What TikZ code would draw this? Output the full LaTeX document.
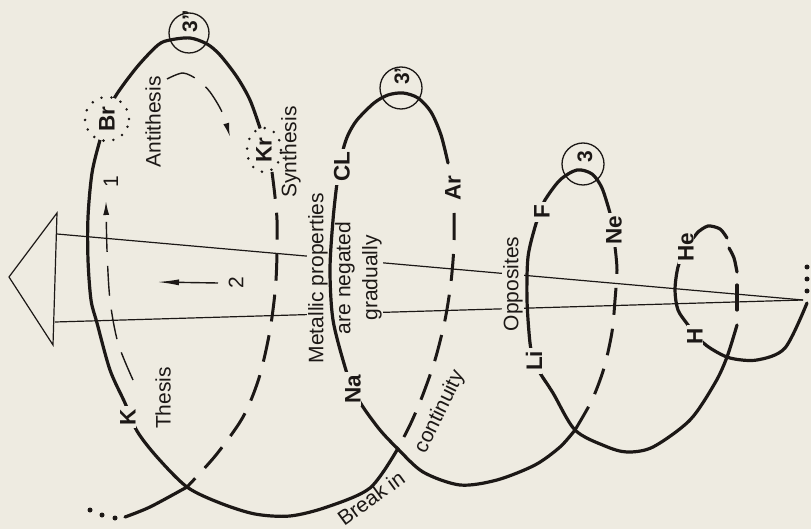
\documentclass[tikz,border=0pt]{standalone}
\usepackage{fontspec}
\setmainfont{Liberation Sans}
\usetikzlibrary{arrows.meta}
\definecolor{paper}{RGB}{238,235,225}
\definecolor{ink}{RGB}{28,24,22}
\begin{document}
\begin{tikzpicture}[x=1pt,y=-1pt,
  spiral/.style={draw=ink,line width=3.2pt,line cap=round,line join=round},
  hidden/.style={draw=ink,line width=3pt,dash pattern=on 27pt off 14pt},
  thinline/.style={draw=ink,line width=1.2pt},
  elem/.style={font=\fontsize{22.5}{25}\selectfont\bfseries,text=ink,rotate=90,fill=paper,inner xsep=3pt,inner ysep=0pt},
  lbl/.style={font=\fontsize{21}{27}\selectfont,text=ink,rotate=90,inner sep=1pt},
  ring/.style={draw=ink,line width=1.3pt},
  ringlbl/.style={font=\fontsize{21}{22}\selectfont\bfseries,text=ink,rotate=90,inner sep=0pt},
  halo/.style={draw=ink,fill=paper,line width=2.8pt,dash pattern=on 0pt off 10pt,line cap=round},
  enddot/.style={circle,fill=ink,inner sep=0pt,minimum size=5pt},
  flowarrow/.style={thinline,line width=1.4pt,dash pattern=on 30pt off 14pt,-{Latex[length=14pt,width=6pt]}},
]
\fill[paper] (0,0) rectangle (811,529);
\useasboundingbox (0,0) rectangle (811,529);

% the cone and converging lines
\coordinate (apex) at (803,300);
\coordinate (ctop) at (57,213);
\coordinate (ctip) at (9,277);
\coordinate (cbot) at (53,345);
\coordinate (ltop) at (57,234);
\coordinate (lbot) at (55,322);
\draw[thinline,line join=miter] (ctop) -- (ctip) -- (cbot) -- cycle;
\draw[thinline] (ltop) -- (apex);
\draw[thinline] (lbot) -- (apex);

% texts that interrupt the thin lines
\node[lbl,fill=paper,align=center] (metal) at (345,278) {Metallic properties\\are negated\\gradually};
\node[lbl,fill=paper] (opp) at (513,284) {Opposites};

% back (hidden) sides of the spiral
\draw[hidden] plot[smooth] coordinates {(272,172) (277,220) (276,280) (270,330) (259,378) (243,417) (216,455) (187,487)};
\draw[hidden] plot[smooth] coordinates {(454,213) (454,245) (451,282) (445,320) (435,360) (422,397) (410,425) (397,450)};
\draw[hidden] plot[smooth] coordinates {(615,247) (617,270) (615,300) (612,332) (604,368) (592,400) (575,430)};
\draw[spiral] (737,310) -- (737,285);
\draw[spiral] plot[smooth] coordinates {(737,272) (734,258) (729,248)};
\draw[spiral] plot[smooth] coordinates {(727,238) (720,229) (708,226) (698,232)};

% front (visible) sides of the spiral
\draw[spiral] plot[smooth] coordinates {(125,517) (150,507) (187,487)};
\draw[spiral] plot[smooth] coordinates {(260,128) (250,100) (237,77) (220,55) (207,44) (190,38) (170,40) (158,45) (137,67) (115,97) (107,118) (100,140) (92,173) (88,217) (88,260) (91,300) (97,323) (110,370) (125,403) (137,431) (157,457) (187,487) (220,503) (255,514) (290,516) (327,507) (370,488) (397,450)};
\draw[spiral] plot[smooth] coordinates {(448,163) (441,135) (431,112) (418,98) (403,93) (388,95) (374,103) (357,120) (348,135) (343,150) (340,167) (337,183) (333,220) (330,270) (333,320) (345,367) (353,389) (363,407) (380,430) (397,448) (423,472) (460,485) (497,480) (535,465) (560,447) (575,430)};
\draw[spiral] plot[smooth] coordinates {(610,213) (602,188) (592,174) (577,170) (560,180) (545,200) (540,213) (535,227) (528,257) (527,300) (530,343) (534,360) (540,373) (553,393) (575,430) (605,446) (627,452) (653,447) (690,420) (715,383) (727,357) (737,325)};
\draw[spiral] plot[smooth] coordinates {(698,232) (686,248) (678,267) (675,290) (678,310) (688,325) (697,337) (710,348) (730,358) (757,360) (785,348) (807,303)};

% end dots
\node[enddot] (dl1) at (90,510) {};
\node[enddot] (dl2) at (102,515) {};
\node[enddot] (dl3) at (115,518) {};
\node[enddot] (dr1) at (807,267) {};
\node[enddot] (dr2) at (807,279) {};
\node[enddot] (dr3) at (807,291) {};

% element labels
\draw[halo] (107,119) circle[radius=22pt];
\node[elem,fill=none] (Br) at (107,119) {Br};
\draw[halo] (264,150) ellipse[x radius=17pt,y radius=22pt];
\node[elem,fill=none] (Kr) at (264,150) {Kr};
\node[elem] (K) at (128,417) {K};
\node[elem] (CL) at (342,167) {CL};
\node[elem] (Ar) at (453,188) {Ar};
\node[elem] (Na) at (353,389) {Na};
\node[elem] (F) at (542,212) {F};
\node[elem] (Ne) at (614,230) {Ne};
\node[elem] (Li) at (534,361) {Li};
\node[elem] (He) at (686,247) {He};
\node[elem] (H) at (695,336) {H};

% rings
\draw[ring] (189,33) circle[radius=20pt];
\node[ringlbl] (r3a) at (190,21) {3''};
\draw[ring] (401,88) circle[radius=21pt];
\node[ringlbl] (r3b) at (402,76) {3'};
\draw[ring] (583,164) circle[radius=21pt];
\node[ringlbl] (r3c) at (585,157) {3};

% inner labels and arrows
\node[lbl] (anti) at (153,122) {Antithesis};
\node[lbl] (synth) at (291,152) {Synthesis};
\node[lbl] (thesis) at (163,398) {Thesis};
\node[lbl] (one) at (111,182) {1};
\node[lbl] (two) at (236,283) {2};
\node[lbl,rotate=-26] (cont) at (440,412) {continuity};
\node[lbl,rotate=-54] (brk) at (371,498) {Break in};

\draw[flowarrow] plot[smooth] coordinates {(133,380) (118,343) (110,300) (107,250) (106,201)};
\draw[flowarrow] plot[smooth] coordinates {(167,79) (183,73) (198,80) (210,92) (222,112) (230,137)};
\draw[thinline,line width=1.4pt,-{Latex[length=22pt,width=6pt]}] (218,283) -- (157,282);
\end{tikzpicture}
\end{document}
